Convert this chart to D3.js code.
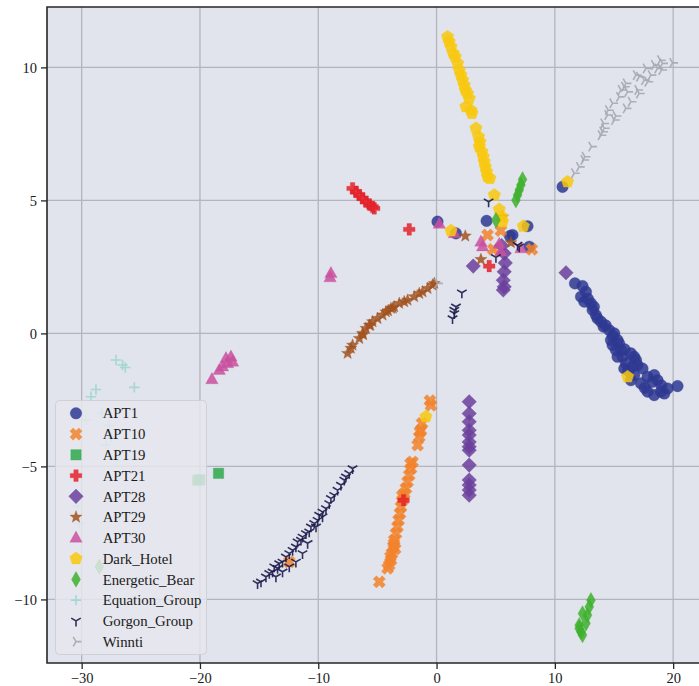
<!DOCTYPE html>
<html><head><meta charset="utf-8">
<script src="https://cdn.jsdelivr.net/npm/d3@7"></script>
<style>body{margin:0;background:#fff}svg{display:block}</style>
</head><body>
<svg id="chart" width="699" height="686"></svg>
<script>
// ---------------- DATA ----------------
const groups = ["APT1","APT10","APT19","APT21","APT28","APT29","APT30","Dark_Hotel","Energetic_Bear","Equation_Group","Gorgon_Group","Winnti"];
const xTicks = [-30,-20,-10,0,10,20];
const yTicks = [-10,-5,0,5,10];

const apt1 = [[11.70,1.88],[12.34,1.78],[12.63,1.56],[12.21,1.38],[12.49,1.19],[13.05,1.13],[13.19,0.88],[13.47,0.69],[13.61,0.56],[13.90,0.44],[14.12,0.25],[14.60,0.12],[15.02,0.00],[14.74,-0.25],[14.88,-0.44],[15.44,-0.38],[15.16,-0.63],[15.59,-0.63],[15.72,-0.88],[16.43,-0.75],[16.71,-0.88],[16.86,-1.00],[16.01,-1.13],[16.57,-1.25],[16.99,-1.19],[17.41,-1.32],[16.71,-1.57],[16.43,-1.76],[17.28,-1.88],[17.84,-1.63],[18.40,-1.57],[18.26,-1.82],[18.68,-1.76],[17.84,-2.19],[18.40,-2.32],[18.97,-2.19],[19.53,-2.07],[20.37,-1.98],[19.25,-2.26],[15.30,-0.88],[15.87,-1.32],[12.8,1.30],[13.3,1.00],[14.3,0.30],[14.9,-0.10],[15.3,-0.25],[15.9,-0.60],[16.2,-1.40],[17.6,-2.05],[19.0,-1.95],[0.08,4.20],[1.64,3.76],[4.23,4.23],[7.69,4.03],[6.42,3.70],[6.20,3.66],[7.84,3.26],[10.65,5.51]];
const apt10 = [[-0.56,-2.53],[-0.47,-2.70],[-1.23,-3.38],[-1.32,-3.64],[-1.46,-3.89],[-1.60,-4.20],[-2.03,-4.83],[-2.16,-5.08],[-2.31,-5.33],[-2.45,-5.58],[-2.59,-5.83],[-2.73,-6.02],[-2.87,-6.27],[-3.01,-6.52],[-3.09,-6.77],[-3.21,-7.02],[-3.30,-7.27],[-3.43,-7.52],[-3.58,-7.77],[-3.66,-8.02],[-3.77,-8.27],[-3.85,-8.52],[-4.00,-8.71],[-4.14,-8.83],[-4.84,-9.34],[-12.45,-8.59],[-3.6,-7.9],[-3.9,-8.4],[-3.5,-8.1],[-2.9,-6.1],[-1.4,-3.7],[-2.2,-4.9],[4.31,3.70],[5.44,3.86],[4.79,3.16],[8.06,3.16]];
const apt19 = [[-18.43,-5.26],[-20.20,-5.52],[-20.0,-5.50]];
const apt21 = [[-7.10,5.45],[-6.81,5.32],[-6.53,5.20],[-6.26,5.08],[-5.97,4.95],[-5.69,4.85],[-5.41,4.76],[-5.27,4.70],[-2.31,3.91],[4.45,2.53],[-2.79,-6.27]];
const apt28 = [[5.72,3.01],[5.81,2.65],[5.72,2.32],[5.64,2.00],[5.72,1.75],[5.64,1.63],[3.10,2.53],[5.5,3.3],[10.94,2.28],[2.76,-2.57],[2.76,-3.01],[2.76,-3.32],[2.76,-3.64],[2.76,-3.82],[2.76,-4.08],[2.76,-4.26],[2.76,-4.39],[2.76,-4.95],[2.76,-5.51],[2.76,-5.70],[2.76,-5.89],[2.76,-6.08]];
const apt29 = [[-7.52,-0.75],[-7.24,-0.56],[-7.10,-0.44],[-6.53,-0.19],[-6.26,0.00],[-5.97,0.19],[-5.69,0.31],[-5.41,0.44],[-4.99,0.56],[-4.56,0.69],[-4.28,0.81],[-3.85,0.94],[-3.58,1.00],[-3.15,1.13],[-2.73,1.19],[-2.45,1.25],[-1.89,1.38],[-1.46,1.50],[-1.18,1.56],[-0.76,1.69],[-0.34,1.82],[-0.19,1.88],[-4.1,0.85],[-3.7,0.95],[-6.2,-0.05],[-5.6,0.30],[2.43,3.66],[3.75,2.78],[5.58,4.38],[6.29,3.41]];
const apt30 = [[-8.93,2.26],[-9.0,2.10],[-18.99,-1.73],[-18.37,-1.38],[-17.80,-0.94],[-17.38,-0.88],[-17.67,-1.13],[-18.09,-1.25],[-17.24,-1.07],[0.23,4.11],[1.50,3.76],[3.75,3.44],[5.30,3.36],[7.13,3.19],[3.89,3.26],[5.44,3.07]];
const darkHotel = [[0.93,11.15],[1.07,10.96],[1.22,10.77],[1.41,10.53],[1.58,10.40],[1.78,10.15],[1.92,9.90],[2.06,9.71],[2.20,9.52],[2.34,9.33],[2.43,9.15],[2.62,9.02],[2.76,8.83],[2.48,8.52],[2.91,8.39],[2.99,8.27],[3.33,7.71],[3.55,7.39],[3.67,7.20],[3.61,7.02],[3.84,6.83],[3.95,6.64],[4.03,6.45],[4.12,6.26],[4.23,6.08],[4.31,5.89],[4.51,5.83],[4.88,5.20],[5.30,4.66],[5.58,4.20],[5.53,4.38],[1.22,3.86],[7.33,4.03],[11.07,5.70],[16.15,-1.63],[-0.90,-3.13]];
const energeticBear = [[7.27,5.79],[7.13,5.58],[6.99,5.39],[6.85,5.20],[6.71,5.01],[5.02,4.26],[13.05,-10.03],[12.91,-10.28],[12.34,-10.53],[12.76,-10.59],[12.06,-10.97],[12.63,-10.90],[12.21,-11.22],[12.34,-11.34],[12.06,-11.09],[-28.51,-8.77]];
const equationGroup = [[-27.10,-1.00],[-26.54,-1.19],[-26.31,-1.28],[-25.55,-2.03],[-28.79,-2.11],[-29.21,-2.38],[-29.64,-3.26],[-27.67,-3.45],[-27.95,-4.20],[-27.10,-4.76],[-28.3,-3.0],[-27.5,-3.9],[-30.2,-7.14],[-30.4,-6.5]];
const gorgonGroup = [[-15.13,-9.40],[-14.84,-9.34],[-14.42,-9.15],[-14.14,-9.02],[-13.86,-8.96],[-13.72,-8.77],[-13.44,-8.83],[-13.30,-8.65],[-13.02,-8.59],[-12.73,-8.40],[-12.45,-8.27],[-12.17,-8.15],[-11.89,-8.02],[-11.75,-7.83],[-11.46,-7.77],[-11.33,-7.65],[-11.04,-7.52],[-10.76,-7.46],[-10.62,-7.27],[-10.34,-7.14],[-10.06,-7.02],[-9.92,-6.83],[-9.64,-6.71],[-9.35,-6.58],[-9.07,-6.39],[-8.93,-6.20],[-8.65,-6.08],[-8.37,-5.89],[-8.08,-5.70],[-7.80,-5.51],[-7.66,-5.39],[-7.38,-5.26],[-7.10,-5.08],[-13.58,-9.15],[-13.02,-8.96],[-12.45,-8.77],[-11.89,-8.59],[-11.33,-8.27],[-10.90,-7.89],[-10.19,-7.27],[-9.64,-6.89],[2.14,1.53],[1.64,1.00],[1.50,0.75],[1.35,0.56],[1.50,0.88],[4.40,4.95],[5.02,2.86],[6.85,3.32],[6.99,3.26]];
const winnti = [[11.64,6.02],[12.06,6.26],[12.43,6.52],[12.54,6.64],[13.10,7.02],[13.89,7.45],[14.03,7.58],[14.18,7.71],[14.12,7.89],[14.45,8.21],[14.51,8.39],[15.02,8.02],[15.16,8.17],[14.88,8.65],[15.44,8.89],[15.59,9.15],[15.87,9.27],[16.01,9.40],[16.15,9.08],[16.01,8.46],[16.43,8.71],[16.99,9.15],[17.13,9.02],[16.86,9.71],[17.13,9.65],[17.56,9.52],[17.84,9.46],[17.70,9.96],[18.12,9.71],[18.40,10.09],[18.68,9.96],[18.91,10.27],[19.10,10.15],[19.02,9.90],[19.95,10.17],[0.08,1.88]];

const colors = ["#2e3892","#f2822c","#2ea84c","#e4222a","#6b3f9c","#a2521e","#c9509f","#f8c80e","#3eb02e","#9fd6cf","#1c1c4c","#a6a7b0"];
const shapes = ["circle","x","square","plus","diamond","star","triangle","pentagon","thin_diamond","cross","tri_down","tri_right"];
const seriesData = [apt1,apt10,apt19,apt21,apt28,apt29,apt30,darkHotel,energeticBear,equationGroup,gorgonGroup,winnti];

// ---------------- LAYOUT ----------------
const plot = {left:47, top:7, right:700, bottom:663};
const x = d3.scaleLinear().domain([-32.93, 22.27]).range([plot.left, plot.right]);
const y = d3.scaleLinear().domain([-12.39, 12.27]).range([plot.bottom, plot.top]);

const svg = d3.select("#chart");
const FONT = "'Liberation Serif','Times New Roman',serif";

svg.append("defs").append("clipPath").attr("id","clip")
  .append("rect").attr("x",plot.left).attr("y",plot.top)
  .attr("width",plot.right-plot.left).attr("height",plot.bottom-plot.top);

svg.append("rect").attr("x",plot.left).attr("y",plot.top)
  .attr("width",plot.right-plot.left).attr("height",plot.bottom-plot.top)
  .attr("fill","#e1e4ec");

// grid
const grid = svg.append("g");
grid.selectAll(".gx").data(xTicks).join("line")
  .attr("x1",d=>x(d)).attr("x2",d=>x(d)).attr("y1",plot.top).attr("y2",plot.bottom)
  .attr("stroke","#b3b5bc").attr("stroke-width",1.3);
grid.selectAll(".gy").data(yTicks).join("line")
  .attr("y1",d=>y(d)).attr("y2",d=>y(d)).attr("x1",plot.left).attr("x2",plot.right)
  .attr("stroke","#b3b5bc").attr("stroke-width",1.3);

// marker paths
function poly(pts){return "M"+pts.map(p=>p[0].toFixed(2)+","+p[1].toFixed(2)).join("L")+"Z";}
function rot(pts,a){const c=Math.cos(a),s=Math.sin(a);return pts.map(p=>[p[0]*c-p[1]*s,p[0]*s+p[1]*c]);}
function plusPts(L,w){return [[-w,-L],[w,-L],[w,-w],[L,-w],[L,w],[w,w],[w,L],[-w,L],[-w,w],[-L,w],[-L,-w],[-w,-w]];}
function regPoly(n,r,off){const a=[];for(let i=0;i<n;i++){const t=off+i*2*Math.PI/n;a.push([r*Math.cos(t),r*Math.sin(t)]);}return a;}
function starPts(ro,ri){const a=[];for(let i=0;i<10;i++){const r=i%2?ri:ro;const t=-Math.PI/2+i*Math.PI/5;a.push([r*Math.cos(t),r*Math.sin(t)]);}return a;}
const markerDefs = {
  circle:{d:()=>{const r=5.8;return `M${r},0A${r},${r} 0 1,1 ${-r},0A${r},${r} 0 1,1 ${r},0Z`;},fill:true},
  x:{d:()=>poly(rot(plusPts(6.4,2.3),Math.PI/4)),fill:true},
  square:{d:()=>poly([[-5.2,-5.2],[5.2,-5.2],[5.2,5.2],[-5.2,5.2]]),fill:true},
  plus:{d:()=>poly(plusPts(5.8,2.2)),fill:true},
  diamond:{d:()=>poly([[0,-7.3],[7.3,0],[0,7.3],[-7.3,0]]),fill:true},
  star:{d:()=>poly(starPts(6.4,2.7)),fill:true},
  triangle:{d:()=>poly([[0,-6.8],[6.2,4.3],[-6.2,4.3]]),fill:true},
  pentagon:{d:()=>poly(regPoly(5,6.6,-Math.PI/2)),fill:true},
  thin_diamond:{d:()=>poly([[0,-7.8],[4.5,0],[0,7.8],[-4.5,0]]),fill:true},
  cross:{d:()=>"M-5.2,0L5.2,0M0,-5.2L0,5.2",fill:false},
  tri_down:{d:()=>"M0,0L0,5.5M0,0L-4.8,-2.8M0,0L4.8,-2.8",fill:false},
  tri_right:{d:()=>"M0,0L5.5,0M0,0L-2.8,-4.8M0,0L-2.8,4.8",fill:false}
};
function styleMarker(sel, shape, color){
  const m = markerDefs[shape];
  sel.attr("d", m.d());
  if(m.fill){ sel.attr("fill",color).attr("fill-opacity",0.85).attr("stroke",color).attr("stroke-opacity",0.5).attr("stroke-width",0.6); }
  else { sel.attr("fill","none").attr("stroke",color).attr("stroke-width",1.6).attr("stroke-opacity",0.9); }
}

// points
const pts = svg.append("g").attr("clip-path","url(#clip)");
groups.forEach((g,i)=>{
  pts.append("g").selectAll("path").data(seriesData[i]).join("path")
    .attr("transform",d=>`translate(${x(d[0])},${y(d[1])})`)
    .call(s=>styleMarker(s,shapes[i],colors[i]));
});

// frame
svg.append("path")
  .attr("d",`M${plot.right+2},${plot.top}H${plot.left}V${plot.bottom}H${plot.right+2}`)
  .attr("fill","none").attr("stroke","#262626").attr("stroke-width",1.6);

// axes
const fmt = d=>d<0?"\u2212"+Math.abs(d):d;
const xAxis = svg.append("g").attr("transform",`translate(0,${plot.bottom})`)
  .call(d3.axisBottom(x).tickValues(xTicks).tickSize(6).tickPadding(4).tickFormat(fmt));
const yAxis = svg.append("g").attr("transform",`translate(${plot.left},0)`)
  .call(d3.axisLeft(y).tickValues(yTicks).tickSize(6).tickPadding(4).tickFormat(fmt));
[xAxis,yAxis].forEach(a=>{
  a.select(".domain").remove();
  a.selectAll(".tick line").attr("stroke","#262626").attr("stroke-width",1.3);
  a.selectAll(".tick text").attr("font-family",FONT).attr("font-size",14.5).attr("fill","#1a1a1a");
});

// legend
const leg = svg.append("g");
leg.append("rect").attr("x",55.5).attr("y",400.5).attr("width",151).attr("height",254).attr("rx",4)
  .attr("fill","#e6e8ee").attr("fill-opacity",0.82).attr("stroke","#cfd1d6").attr("stroke-width",1);
groups.forEach((g,i)=>{
  const yy = 413.3 + i*20.76;
  leg.append("path").attr("transform",`translate(76,${yy})`).call(s=>styleMarker(s,shapes[i],colors[i]));
  leg.append("text").attr("x",102.7).attr("y",yy).attr("dy","0.35em")
    .attr("font-family",FONT).attr("font-size",14.8).attr("fill","#1a1a1a").text(g);
});
</script>
</body></html>
